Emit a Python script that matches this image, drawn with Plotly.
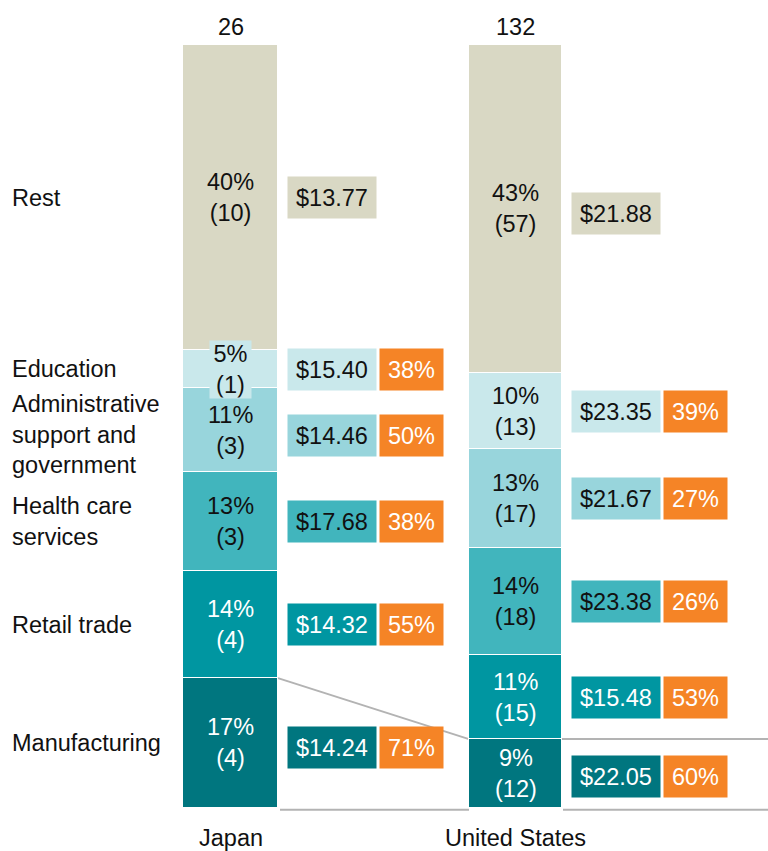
import plotly.graph_objects as go

# Industry segments, bottom to top of each stacked bar
categories = ["Manufacturing", "Retail trade", "Health care services",
              "Administrative support and government", "Education", "Rest"]
category_labels = ["Manufacturing", "Retail trade", "Health care<br>services",
                   "Administrative<br>support and<br>government", "Education", "Rest"]
countries = ["Japan", "United States"]
totals = [26, 132]

japan_share = [17, 14, 13, 11, 5, 40]
japan_count = [4, 4, 3, 3, 1, 10]
us_share = [9, 11, 14, 13, 10, 43]
us_count = [12, 15, 18, 17, 13, 57]

japan_wage = [14.24, 14.32, 17.68, 14.46, 15.40, 13.77]
us_wage = [22.05, 15.48, 23.38, 21.67, 23.35, 21.88]
japan_low = [71, 55, 38, 50, 38, None]
us_low = [60, 53, 26, 27, 39, None]

# Styling
colors = ["#00767f", "#0096a1", "#41b5bd", "#98d5dc", "#c9e8eb", "#d9d8c4"]
text_colors = ["white", "white", "#111111", "#111111", "#111111", "#111111"]
orange = "#f58426"
grey = "#b3b3b3"
FONT = "Arial, 'Liberation Sans', sans-serif"
FS = 23.5

bar_x = [230.5, 515.5]
bar_w = [95, 93]

# small vertical nudges (pixels) for a few wage boxes so they clear the connector
box_nudge = {(0, 0): -5, (0, 3): -5, (1, 0): -3, (1, 5): -5}

shares = [japan_share, us_share]
counts = [japan_count, us_count]
wages = [japan_wage, us_wage]
lows = [japan_low, us_low]

fig = go.Figure()
for i, cat in enumerate(categories):
    fig.add_trace(go.Bar(
        x=bar_x, y=[japan_share[i], us_share[i]], width=bar_w,
        name=cat, marker=dict(color=colors[i], line=dict(color="white", width=1.5)),
        hoverinfo="skip", showlegend=False,
    ))

annotations = []


def midpoints(vals):
    out, cum = [], 0
    for v in vals:
        out.append(cum + v / 2)
        cum += v
    return out


for c in range(2):
    mids = midpoints(shares[c])
    for i in range(len(categories)):
        a = dict(x=bar_x[c], y=mids[i], xref="x", yref="y", showarrow=False,
                 text=f"{shares[c][i]}%<br>({counts[c][i]})",
                 font=dict(family=FONT, size=FS, color=text_colors[i]),
                 align="center")
        if c == 0 and categories[i] == "Education":
            a.update(bgcolor=colors[i], borderpad=0, width=41)
        annotations.append(a)
        # wage box
        wx = bar_x[c] + bar_w[c] / 2 + 10 + 44
        ys = box_nudge.get((c, i), 0)
        annotations.append(dict(
            x=wx, y=mids[i], xref="x", yref="y", showarrow=False, yshift=ys,
            text=f"${wages[c][i]:.2f}", bgcolor=colors[i], borderpad=0,
            width=88, height=41,
            font=dict(family=FONT, size=FS, color=text_colors[i])))
        if lows[c][i] is not None:
            annotations.append(dict(
                x=wx + 44 + 4 + 31.5, y=mids[i], xref="x", yref="y", showarrow=False,
                yshift=ys, text=f"{lows[c][i]}%", bgcolor=orange, borderpad=0,
                width=63, height=41,
                font=dict(family=FONT, size=FS, color="white")))
    # totals above, country name below
    annotations.append(dict(x=bar_x[c], y=100, xref="x", yref="y", showarrow=False,
                            yanchor="middle", yshift=18, text=str(totals[c]),
                            font=dict(family=FONT, size=FS, color="#111111")))
    annotations.append(dict(x=bar_x[c], y=0, xref="x", yref="y", showarrow=False,
                            yanchor="middle", yshift=-30, text=countries[c],
                            font=dict(family=FONT, size=FS, color="#111111")))

# Category names on the left, aligned with the Japan segments
for i, lab in enumerate(category_labels):
    annotations.append(dict(x=10, y=midpoints(japan_share)[i], xref="x", yref="y",
                            xanchor="left", align="left", showarrow=False, text=lab,
                            yshift=-4 if i == 3 else 0,
                            font=dict(family=FONT, size=FS, color="#111111")))

# Connector rules between the bars
jp_right = bar_x[0] + bar_w[0] / 2
us_left = bar_x[1] - bar_w[1] / 2
us_right = bar_x[1] + bar_w[1] / 2
rule = dict(color=grey, width=2)
shapes = [
    dict(type="line", xref="x", yref="y", layer="below", x0=jp_right, x1=us_left,
         y0=japan_share[0], y1=us_share[0], line=rule),
    dict(type="line", xref="x", yref="y", layer="below", x0=us_right, x1=768,
         y0=us_share[0], y1=us_share[0], line=rule),
    dict(type="line", xref="x", yref="y", layer="below", ysizemode="pixel", yanchor=0,
         x0=jp_right + 2, x1=us_left, y0=-2, y1=-2, line=rule),
    dict(type="line", xref="x", yref="y", layer="below", ysizemode="pixel", yanchor=0,
         x0=us_right + 1, x1=768, y0=-2, y1=-2, line=rule),
]

fig.update_layout(
    width=768, height=851, barmode="stack", bargap=0,
    margin=dict(l=0, r=0, t=45, b=28),
    paper_bgcolor="white", plot_bgcolor="white",
    xaxis=dict(range=[0, 768], visible=False, fixedrange=True),
    yaxis=dict(range=[-2, 100], visible=False, fixedrange=True),
    annotations=annotations, shapes=shapes,
    font=dict(family=FONT, size=FS),
)

fig.write_html("out.html", config={"displayModeBar": False})
